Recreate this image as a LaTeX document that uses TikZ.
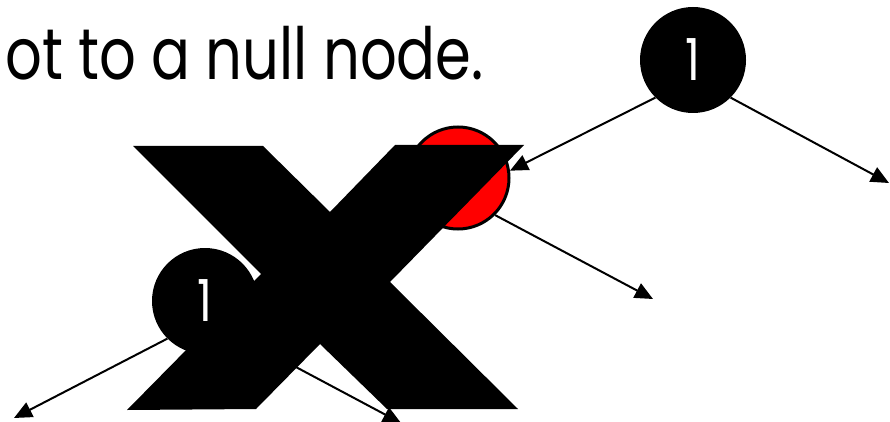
\documentclass[tikz,border=0pt]{standalone}
\usepackage{fontspec}
\setmainfont{Poppins}
\newfontfamily\captionfont{Poppins}[FakeStretch=0.8]
\usetikzlibrary{arrows.meta}

\begin{document}
\begin{tikzpicture}[x=1pt, y=-1pt,
    every node/.style={font=\captionfont\fontsize{58}{58}\selectfont},
    treenode/.style={circle, minimum size=106pt, inner sep=0pt, text=white},
    blacknode/.style={treenode, fill=black},
    rednode/.style={treenode, minimum size=102pt, fill=red, draw=black, line width=3pt},
    edge/.style={-{Triangle[length=18pt,width=16pt]}, line width=2pt},
    cross/.style={fill=black},
  ]
  \useasboundingbox (0,0) rectangle (890,422);
  \clip (0,0) rectangle (890,422);

  \node[anchor=base east, inner sep=0pt, font=\captionfont\fontsize{72}{72}\selectfont] (caption) at (484,80) {ot to a null node.};

  % tree nodes
  \node[blacknode] (top) at (693,60)  {1};
  \node[rednode]   (red) at (458,178) {};
  \node[blacknode] (low) at (205,301) {1};

  % null leaves
  \coordinate (topR) at (889,183);
  \coordinate (redR) at (653,299);
  \coordinate (lowL) at (14,418);
  \coordinate (lowR) at (401,423);

  \draw[edge] (top.south west) -- (red.8);
  \draw[edge] (top.south east) -- (topR);
  \draw[edge] (red.south east) -- (redR);
  \draw[edge] (low.south west) -- (lowL);
  \draw[edge] (low.south east) -- (lowR);

  % big cross over the removed part
  \fill[cross] (133,146) -- (263,146) -- (330,212) -- (395,145) -- (524,145)
    -- (390,282) -- (518,409) -- (387,409) -- (320,344) -- (256,409)
    -- (127,410) -- (261,274) -- cycle;
\end{tikzpicture}
\end{document}
